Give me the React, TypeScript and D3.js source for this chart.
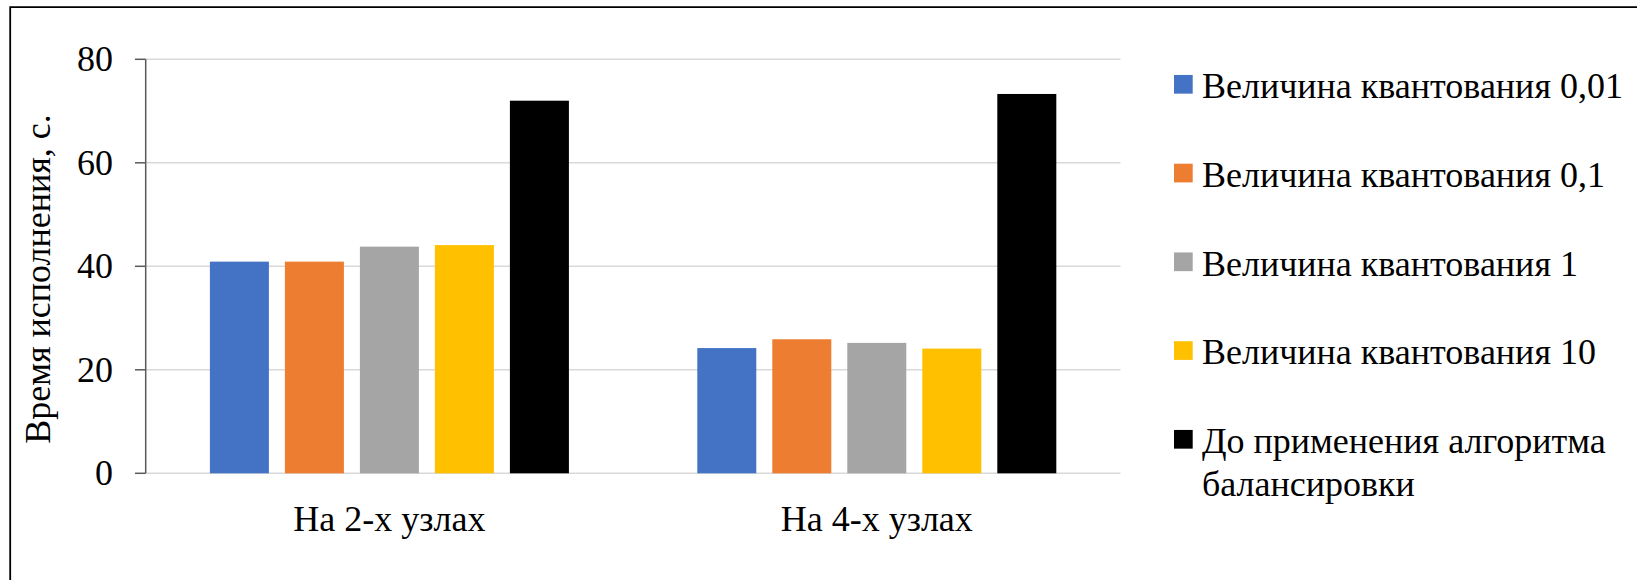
import React from "react";
import * as d3 from "d3";

const categories = ["На 2-х узлах", "На 4-х узлах"];
const seriesNames = [
  "Величина квантования 0,01",
  "Величина квантования 0,1",
  "Величина квантования 1",
  "Величина квантования 10",
  "До применения алгоритма балансировки",
];
const seriesColors = ["#4472C4", "#ED7D31", "#A5A5A5", "#FFC000", "#000000"];
const values2 = [40.9, 40.9, 43.8, 44.1, 72.0];
const values4 = [24.2, 25.9, 25.2, 24.1, 73.3];
const yTicks = [0, 20, 40, 60, 80];
const yTitle = "Время исполнения, с.";

const W = 1637;
const H = 580;
const FONT = "'Liberation Serif', Tinos, 'Times New Roman', 'DejaVu Serif', 'Noto Serif', serif";

export default function App() {
  const plotLeft = 145.7;
  const plotRight = 1120.5;
  const plotTop = 59.3;
  const plotBottom = 473.3;

  const table = [values2, values4];

  const x0 = d3
    .scaleBand<string>()
    .domain(categories)
    .range([plotLeft, plotRight])
    .paddingInner(0.2634)
    .paddingOuter(0.1317);
  const x1 = d3
    .scaleBand<string>()
    .domain(seriesNames)
    .range([0, x0.bandwidth()])
    .paddingInner(0.2133)
    .paddingOuter(0);
  const y = d3.scaleLinear().domain([0, 80]).range([plotBottom, plotTop]);

  const legendX = 1174;
  const legendTextX = 1202;
  const legendBaseline0 = 98;
  const legendStep = 88.75;
  const sq = 18.7;

  return (
    <svg
      width={W}
      height={H}
      style={{ position: "absolute", left: 0, top: 0, background: "#fff", fontFamily: FONT }}
    >
      <rect x={0} y={0} width={W} height={H} fill="#fff" />
      <path d={`M10.2,${H} V7.2 H${W}`} fill="none" stroke="#000" strokeWidth={1.8} />

      {yTicks.map((t) => (
        <line
          key={"g" + t}
          x1={plotLeft}
          x2={plotRight}
          y1={y(t)}
          y2={y(t)}
          stroke="#D9D9D9"
          strokeWidth={1.5}
        />
      ))}

      {categories.map((c, ci) => (
        <g key={c} transform={`translate(${x0(c)},0)`}>
          {seriesNames.map((s, si) => (
            <rect
              key={s}
              x={x1(s)}
              y={y(table[ci][si])}
              width={x1.bandwidth()}
              height={y(0) - y(table[ci][si])}
              fill={seriesColors[si]}
            />
          ))}
        </g>
      ))}

      <line x1={plotLeft} x2={plotLeft} y1={plotTop} y2={plotBottom} stroke="#595959" strokeWidth={1.5} />
      {yTicks.map((t) => (
        <g key={"t" + t}>
          <line x1={135} x2={plotLeft} y1={y(t)} y2={y(t)} stroke="#595959" strokeWidth={1.5} />
          <text
            x={113}
            y={y(t)}
            dy="0.33em"
            textAnchor="end"
            fontSize={36}
            style={{ fontFamily: FONT }}
            fill="#000"
          >
            {t}
          </text>
        </g>
      ))}

      <text
        transform={`translate(50,279) rotate(-90)`}
        textAnchor="middle"
        fontSize={36}
        style={{ fontFamily: FONT }}
        fill="#000"
      >
        {yTitle}
      </text>

      {categories.map((c) => (
        <text
          key={"c" + c}
          x={(x0(c) as number) + x0.bandwidth() / 2}
          y={531}
          textAnchor="middle"
          fontSize={36}
          style={{ fontFamily: FONT }}
          fill="#000"
        >
          {c}
        </text>
      ))}

      {seriesNames.map((s, i) => {
        const base = legendBaseline0 + i * legendStep;
        const lines =
          i === 4 ? ["До применения алгоритма", "балансировки"] : [s];
        return (
          <g key={"l" + s}>
            <rect x={legendX} y={base - 13.7 - sq / 2} width={sq} height={sq} fill={seriesColors[i]} />
            <text x={legendTextX} y={base} fontSize={36} style={{ fontFamily: FONT }} fill="#000">
              {lines.map((ln, li) => (
                <tspan key={li} x={legendTextX} y={base + li * 42.5}>
                  {ln}
                </tspan>
              ))}
            </text>
          </g>
        );
      })}
    </svg>
  );
}
